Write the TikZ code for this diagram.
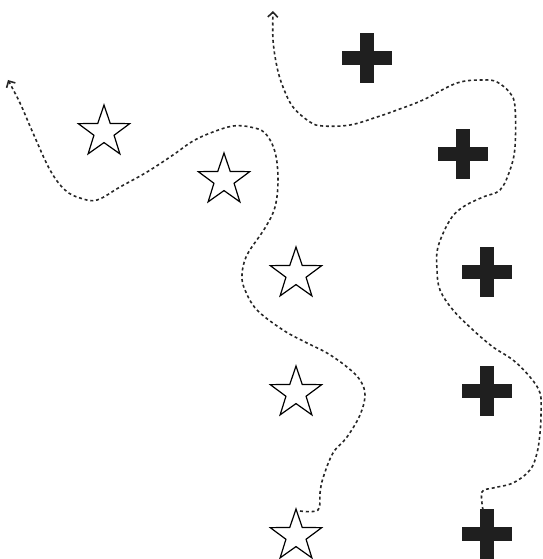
\documentclass[tikz,border=0pt]{standalone}
\usetikzlibrary{arrows.meta,shapes.geometric}
\begin{document}
\begin{tikzpicture}[x=1pt,y=-1pt,>={Straight Barb[length=5pt,width=10pt]},
  starmark/.style={star,star points=5,star point ratio=2.55,minimum size=54pt,inner sep=0pt,draw=black,line width=1.2pt},
  plusmark/.style={rectangle,minimum size=50pt,inner sep=0pt,
    path picture={
      \fill[black!88] (path picture bounding box.south) ++(-7pt,0pt) rectangle ++(14pt,50pt);
      \fill[black!88] (path picture bounding box.west) ++(0pt,-7pt) rectangle ++(50pt,14pt);}},
  trail/.style={black!85,line width=1.6pt,dash pattern=on 3pt off 2.8pt,smooth,tension=0.6}]
\useasboundingbox (0,0) rectangle (542,559);
% stars
\node[starmark] (star1) at (104,132) {};
\node[starmark] (star2) at (224,180) {};
\node[starmark] (star3) at (296,274) {};
\node[starmark] (star4) at (296,393) {};
\node[starmark] (star5) at (296,536) {};
% crosses
\node[plusmark] (plus1) at (367,58) {};
\node[plusmark] (plus2) at (463,154) {};
\node[plusmark] (plus3) at (487,272) {};
\node[plusmark] (plus4) at (487,391) {};
\node[plusmark] (plus5) at (487,534) {};
% free ends of the two trails
\coordinate (tipA) at (8,80);
\coordinate (tipB) at (273,11);
% left trail
\draw[trail,->] plot coordinates {(300,511) (318,510) (320,493) (323,478) (333,453) (347,437)
  (360,415) (365,395) (360,380) (347,367) (327,353) (305,342) (283,330) (257,310) (245,290)
  (242,275) (247,255) (265,228) (275,207) (278,180) (275,152) (265,133) (250,127) (233,126)
  (213,132) (193,141) (173,155) (147,172) (120,187) (97,200) (80,198) (65,190) (50,170)
  (33,133) (20,103) (tipA)};
% right trail
\draw[trail,->] plot coordinates {(483,510) (482,492) (493,488) (513,483) (530,470) (537,453)
  (540,433) (541,413) (540,393) (530,377) (513,360) (493,347) (473,330) (453,310) (440,290)
  (437,270) (438,247) (450,220) (463,207) (483,197) (500,190) (510,170) (515,147) (515,107)
  (510,93) (497,82) (483,80) (457,83) (423,100) (397,110) (377,117) (350,125) (323,126)
  (310,122) (293,107) (283,87) (277,67) (273,40) (tipB)};
\end{tikzpicture}
\end{document}
